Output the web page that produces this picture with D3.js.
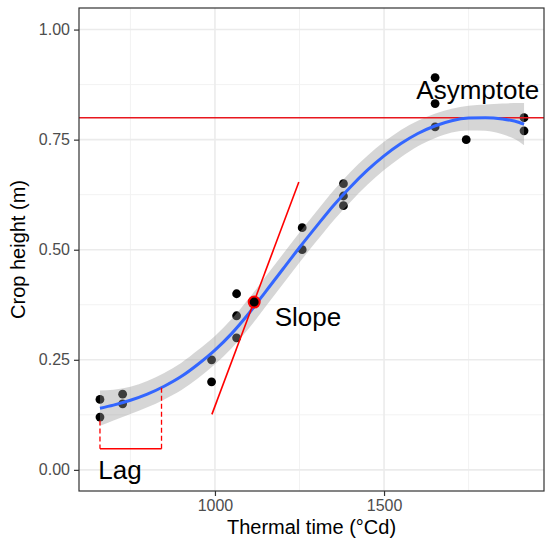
<!DOCTYPE html>
<html>
<head>
<meta charset="utf-8">
<script src="https://cdn.jsdelivr.net/npm/d3@7"></script>
<style>
  body { margin: 0; background: #fff; }
  text { font-family: "Liberation Sans", Arial, sans-serif; }
</style>
</head>
<body>
<div id="chart-area"></div>
<script>
// Observed points (thermal time, crop height)
var thermalTime = [660, 660, 727, 727, 990, 990, 1064, 1064, 1064, 1258, 1258, 1380, 1380, 1380, 1651, 1651, 1651, 1743, 1914, 1914];
var cropHeight  = [0.16, 0.12, 0.172, 0.15, 0.25, 0.20, 0.40, 0.35, 0.30, 0.55, 0.50, 0.65, 0.622, 0.60, 0.891, 0.832, 0.779, 0.75, 0.80, 0.77];

// Smoothed fit and its confidence band
var smoothX     = [660, 700, 750, 800, 850, 900, 950, 1000, 1050, 1100, 1150, 1200, 1250, 1300, 1350, 1400, 1450, 1500, 1550, 1600, 1650, 1700, 1750, 1800, 1850, 1900, 1914];
var smoothY     = [0.140, 0.147, 0.158, 0.172, 0.190, 0.212, 0.240, 0.272, 0.310, 0.355, 0.405, 0.455, 0.505, 0.553, 0.600, 0.642, 0.680, 0.713, 0.741, 0.764, 0.781, 0.793, 0.799, 0.800, 0.797, 0.789, 0.785];
var smoothLower = [0.100, 0.112, 0.127, 0.142, 0.160, 0.181, 0.208, 0.240, 0.277, 0.321, 0.371, 0.421, 0.471, 0.519, 0.566, 0.608, 0.647, 0.681, 0.710, 0.735, 0.753, 0.766, 0.771, 0.770, 0.762, 0.745, 0.737];
var smoothUpper = [0.180, 0.182, 0.189, 0.202, 0.220, 0.243, 0.272, 0.304, 0.343, 0.389, 0.439, 0.489, 0.539, 0.587, 0.634, 0.676, 0.713, 0.745, 0.772, 0.793, 0.809, 0.820, 0.827, 0.830, 0.832, 0.833, 0.833];

// Annotations
var asymptote = 0.80;
var slopePoint = [1116, 0.381];
var slopeLine = [[991, 0.126], [1248, 0.654]];
var lagPath = [[660, 0.112], [660, 0.048], [842, 0.048], [842, 0.192]];
var labels = [
  { text: "Lag", x: 719, y: 0.0 },
  { text: "Slope", x: 1275, y: 0.347 },
  { text: "Asymptote", x: 1777, y: 0.863 }
];

var xTicks = [1000, 1500];
var xMinor = [750, 1250, 1750];
var yTicks = [0, 0.25, 0.5, 0.75, 1];
var yMinor = [0.125, 0.375, 0.625, 0.875];

var width = 552;
var height = 540;
var margin = { top: 8, right: 8, bottom: 49, left: 79 };
var innerWidth = width - margin.left - margin.right;
var innerHeight = height - margin.top - margin.bottom;

var svg = d3.select("#chart-area")
    .append("svg")
    .attr("width", width)
    .attr("height", height);

var g = svg.append("g")
    .attr("transform", `translate(${margin.left}, ${margin.top})`);

var x = d3.scaleLinear().domain([598, 1973]).range([0, innerWidth]);
var y = d3.scaleLinear().domain([-0.048, 1.049]).range([innerHeight, 0]);

// grid
g.selectAll(".xminor").data(xMinor).enter().append("line")
    .attr("x1", d => x(d)).attr("x2", d => x(d))
    .attr("y1", 0).attr("y2", innerHeight)
    .attr("stroke", "#F2F2F2").attr("stroke-width", 1);
g.selectAll(".yminor").data(yMinor).enter().append("line")
    .attr("y1", d => y(d)).attr("y2", d => y(d))
    .attr("x1", 0).attr("x2", innerWidth)
    .attr("stroke", "#F2F2F2").attr("stroke-width", 1);
g.selectAll(".xmajor").data(xTicks).enter().append("line")
    .attr("x1", d => x(d)).attr("x2", d => x(d))
    .attr("y1", 0).attr("y2", innerHeight)
    .attr("stroke", "#EBEBEB").attr("stroke-width", 1.6);
g.selectAll(".ymajor").data(yTicks).enter().append("line")
    .attr("y1", d => y(d)).attr("y2", d => y(d))
    .attr("x1", 0).attr("x2", innerWidth)
    .attr("stroke", "#EBEBEB").attr("stroke-width", 1.6);

// points (drawn under the ribbon)
g.selectAll(".pt").data(thermalTime).enter().append("circle")
    .attr("cx", d => x(d))
    .attr("cy", (d, i) => y(cropHeight[i]))
    .attr("r", 4.4)
    .attr("fill", "#000");

// ribbon
var band = smoothX.map((d, i) => ({ x: d, lo: smoothLower[i], hi: smoothUpper[i], y: smoothY[i] }));
g.append("path")
    .datum(band)
    .attr("fill", "#999999")
    .attr("fill-opacity", 0.4)
    .attr("d", d3.area().curve(d3.curveMonotoneX)
        .x(d => x(d.x)).y0(d => y(d.lo)).y1(d => y(d.hi)));

// asymptote line
g.append("line")
    .attr("x1", 0).attr("x2", innerWidth)
    .attr("y1", y(asymptote)).attr("y2", y(asymptote))
    .attr("stroke", "#E8171E").attr("stroke-width", 1.5);

// smooth line
g.append("path")
    .datum(band)
    .attr("fill", "none")
    .attr("stroke", "#3366FF")
    .attr("stroke-width", 3)
    .attr("d", d3.line().curve(d3.curveMonotoneX).x(d => x(d.x)).y(d => y(d.y)));

// slope tangent
g.append("line")
    .attr("x1", x(slopeLine[0][0])).attr("y1", y(slopeLine[0][1]))
    .attr("x2", x(slopeLine[1][0])).attr("y2", y(slopeLine[1][1]))
    .attr("stroke", "#FF0000").attr("stroke-width", 1.6);

g.append("circle")
    .attr("cx", x(slopePoint[0])).attr("cy", y(slopePoint[1]))
    .attr("r", 5.5)
    .attr("fill", "#000")
    .attr("stroke", "#FF0000")
    .attr("stroke-width", 2);

// lag bracket
var seg = (a, b, dash) => g.append("line")
    .attr("x1", x(a[0])).attr("y1", y(a[1]))
    .attr("x2", x(b[0])).attr("y2", y(b[1]))
    .attr("stroke", "#FF0000").attr("stroke-width", 1.3)
    .attr("stroke-dasharray", dash);
seg(lagPath[0], lagPath[1], "5,3");
seg(lagPath[1], lagPath[2], null);
seg(lagPath[2], lagPath[3], "5,3");

// annotation labels
g.selectAll(".lab").data(labels).enter().append("text")
    .attr("x", d => x(d.x))
    .attr("y", d => y(d.y))
    .attr("dy", "0.36em")
    .attr("text-anchor", "middle")
    .attr("font-size", "26px")
    .attr("fill", "#000")
    .text(d => d.text);

// panel border
g.append("rect")
    .attr("width", innerWidth).attr("height", innerHeight)
    .attr("fill", "none").attr("stroke", "#333333").attr("stroke-width", 1.2);

// axes
var xAxis = g.append("g")
    .attr("transform", `translate(0, ${innerHeight})`)
    .call(d3.axisBottom(x).tickValues(xTicks).tickSize(5).tickPadding(4).tickFormat(d3.format("d")));
var yAxis = g.append("g")
    .call(d3.axisLeft(y).tickValues(yTicks).tickSize(5).tickPadding(4).tickFormat(d3.format(".2f")));
[xAxis, yAxis].forEach(a => {
    a.select(".domain").remove();
    a.selectAll(".tick line").attr("stroke", "#333333").attr("stroke-width", 1.2);
    a.selectAll(".tick text").attr("fill", "#4D4D4D").attr("font-size", "16px")
        .attr("font-family", "Liberation Sans, Arial, sans-serif");
});

// axis titles
svg.append("text")
    .attr("x", margin.left + innerWidth / 2)
    .attr("y", 534)
    .attr("text-anchor", "middle")
    .attr("font-size", "20px")
    .attr("fill", "#000")
    .text("Thermal time (°Cd)");

svg.append("text")
    .attr("transform", `translate(25, ${margin.top + innerHeight / 2}) rotate(-90)`)
    .attr("text-anchor", "middle")
    .attr("font-size", "20px")
    .attr("fill", "#000")
    .text("Crop height (m)");
</script>
</body>
</html>
